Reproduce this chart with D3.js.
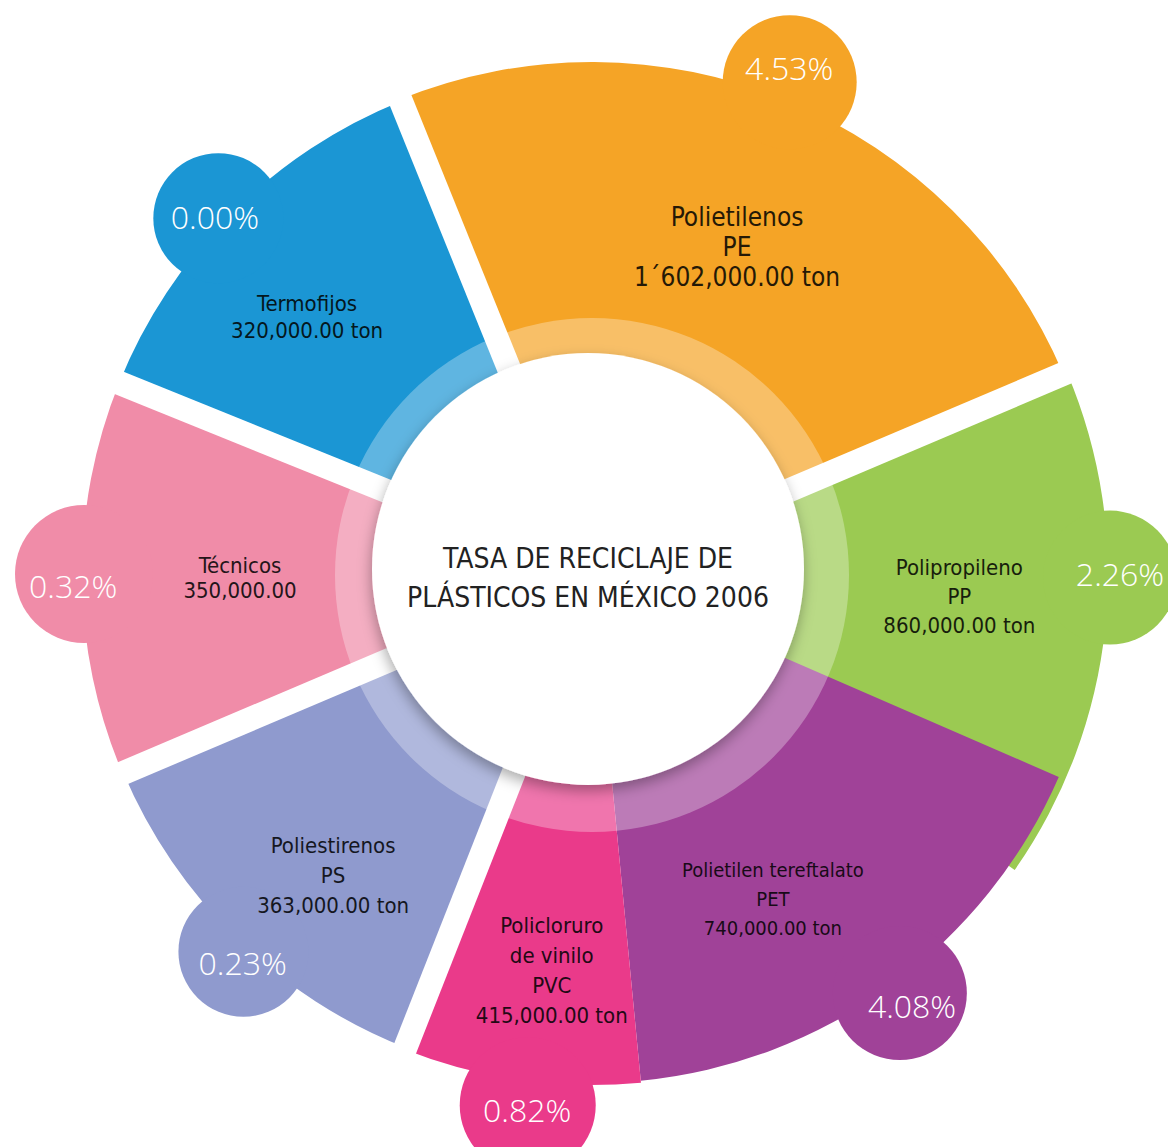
<!DOCTYPE html>
<html><head><meta charset="utf-8">
<script src="https://cdn.jsdelivr.net/npm/d3@7"></script>
<style>html,body{margin:0;padding:0;background:#fff;} svg{display:block}</style>
</head><body>
<script>
// ---------- data ----------
const categories = ["PE","PP","PET","PVC","PS","Técnicos","Termofijos"];
const nameLines = [["Polietilenos","PE"],["Polipropileno","PP"],["Polietilen tereftalato","PET"],["Policloruro","de vinilo","PVC"],["Poliestirenos","PS"],["Técnicos"],["Termofijos"]];
const tons = [1602000, 860000, 740000, 415000, 363000, 350000, 320000];
const tonLabels = ["1´602,000.00 ton","860,000.00 ton","740,000.00 ton","415,000.00 ton","363,000.00 ton","350,000.00","320,000.00 ton"];
const rates = [4.53, 2.26, 4.08, 0.82, 0.23, 0.32, 0.00];
const colors = ["#F5A426","#9BCA52","#A04298","#EA3A8A","#8F9ACE","#F08CA8","#1B96D4"];
const titleLines = ["TASA DE RECICLAJE DE","PLÁSTICOS EN MÉXICO 2006"];

// ---------- layout (degrees clockwise from 12 o'clock; pixels) ----------
const segStart = [-22, 67, 113.5, 174.5, 201.5, 247, 292];
const segEnd   = [67, 125, 174.5, 201.5, 247, 292, 338];
const segOuter = [512, 516, 509, 511, 509, 510, 510];
const gapAngles = [-22, 67, 201.5, 247, 292];
const bubbleAngle = [21.9, 90.4, 143.7, 186.9, 222.7, 270, 313.6];
const bubbleDist  = [530, 518, 520, 535, 514, 508, 516];
const bubbleR     = [67, 67, 67, 68, 65, 69, 65];
const pctAngle = [21.3, 90.1, 143.5, 186.9, 221.9, 268.6, 313.4];
const pctDist  = [543, 528, 538, 540, 523, 519, 519];
const labelAngle = [23.9, 93.4, 150.9, 185.8, 220.7, 269.4, 312.1];
const labelDist  = [358, 368, 372, 398, 397, 352, 384];
const labelSize  = [26, 22, 20, 22, 22, 22, 22];
const labelLead  = [30, 29, 29, 30, 30, 25, 27];

const W = 1168, H = 1147, cx = 592, cy = 574;
const rad = d3.scaleLinear().domain([0, 360]).range([0, 2 * Math.PI]);

const svg = d3.select("body").append("svg").attr("width", W).attr("height", H);
const defs = svg.append("defs");
const f = defs.append("filter").attr("id","sh").attr("x","-20%").attr("y","-20%").attr("width","140%").attr("height","140%");
f.append("feDropShadow").attr("dx",-1).attr("dy",6).attr("stdDeviation",7).attr("flood-color","#000").attr("flood-opacity",0.32);

const g = svg.append("g").attr("transform", `translate(${cx},${cy})`);
const arc = d3.arc();
const fmtPct = d3.format(".2f");
const condensed = "'DejaVu Sans Condensed','DejaVu Sans',sans-serif";

const data = categories.map((c, i) => ({
  i, c, color: colors[i], tons: tons[i], rate: rates[i],
  startAngle: rad(segStart[i]), endAngle: rad(segEnd[i]),
  innerRadius: 200, outerRadius: segOuter[i]
}));

// segments + bubbles
const segG = g.append("g");
data.forEach(d => {
  const sg = segG.append("g");
  sg.append("path").attr("d", arc(d)).attr("fill", d.color);
  const [bx, by] = d3.pointRadial(rad(bubbleAngle[d.i]), bubbleDist[d.i]);
  sg.append("circle").attr("cx", bx).attr("cy", by).attr("r", bubbleR[d.i]).attr("fill", d.color);
});

// white gaps
g.append("g").selectAll("line").data(gapAngles).join("line")
  .each(function(a) {
    const [x1, y1] = d3.pointRadial(rad(a), 150);
    const [x2, y2] = d3.pointRadial(rad(a), 600);
    d3.select(this).attr("x1", x1).attr("y1", y1).attr("x2", x2).attr("y2", y2);
  })
  .attr("stroke", "#fff").attr("stroke-width", 24);

// percent labels
g.append("g").selectAll("text").data(data).join("text")
  .attr("transform", d => { const p = d3.pointRadial(rad(pctAngle[d.i]), pctDist[d.i]); return `translate(${p[0]},${p[1]})`; })
  .attr("text-anchor", "middle").attr("dy", "0.36em")
  .attr("font-family", "'Open Sans',Lato,sans-serif").attr("font-weight", 300)
  .attr("font-size", 32).attr("fill", "#fff")
  .text(d => fmtPct(d.rate) + "%");

// category labels
const lab = g.append("g").selectAll("text").data(data).join("text")
  .attr("text-anchor", "middle")
  .attr("font-family", condensed).attr("font-stretch", "condensed")
  .attr("font-size", d => labelSize[d.i])
  .attr("fill", d => d3.interpolateRgb(d.color, "#000")(0.85));
lab.each(function(d) {
  const lines = nameLines[d.i].concat([tonLabels[d.i]]);
  const [lx, ly] = d3.pointRadial(rad(labelAngle[d.i]), labelDist[d.i]);
  const lead = labelLead[d.i];
  const y0 = ly - (lines.length - 1) * lead / 2;
  d3.select(this).selectAll("tspan").data(lines).join("tspan")
    .attr("x", lx).attr("y", (s, k) => y0 + k * lead).attr("dy", "0.36em").text(s => s);
});

// translucent ring + centre disc
svg.append("circle").attr("cx", 592).attr("cy", 575).attr("r", 257).attr("fill", "#fff").attr("fill-opacity", 0.3);
svg.append("circle").attr("cx", 588).attr("cy", 569).attr("r", 216).attr("fill", "#fff").attr("filter", "url(#sh)");

svg.append("text").attr("text-anchor", "middle")
  .attr("font-family", condensed).attr("font-stretch", "condensed")
  .attr("font-size", 28).attr("fill", "#222")
  .selectAll("tspan").data(titleLines).join("tspan")
  .attr("x", 588).attr("y", (s, k) => 558 + k * 39).attr("dy", "0.36em").text(s => s);
</script>
</body></html>
